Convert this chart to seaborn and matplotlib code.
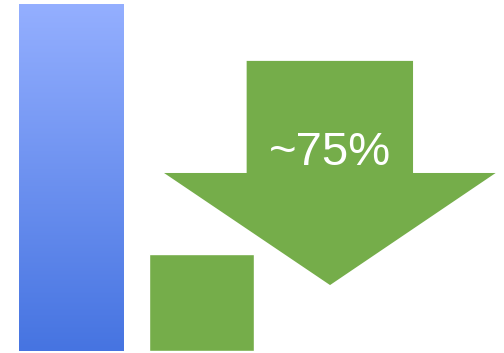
import numpy as np
import matplotlib
matplotlib.use('Agg')
import matplotlib.pyplot as plt
from matplotlib.colors import LinearSegmentedColormap
from matplotlib.patches import Polygon
import seaborn as sns

# values
categories = ['Before', 'After']
values = [100, 28]
drop_label = '~75%'

sns.set_style('white')
plt.rcParams['font.family'] = ['Liberation Sans', 'DejaVu Sans']

fig = plt.figure(figsize=(5.04, 3.53), dpi=100)
ax = fig.add_axes([0, 0, 1, 1])

sns.barplot(x=categories, y=values, ax=ax, width=0.8,
            palette=['#6A8FEF', '#75AD4A'], hue=categories, legend=False,
            saturation=1)

ax.set_xlim(-0.544, 3.318)
ax.set_ylim(-0.58, 101.15)
ax.axis('off')

# gradient fill on the first bar
bar = ax.patches[0]
x0, w, h = bar.get_x(), bar.get_width(), bar.get_height()
grad = LinearSegmentedColormap.from_list('g', ['#4674E1', '#94AFFF'])
img = ax.imshow(np.linspace(0, 1, 256).reshape(-1, 1), cmap=grad,
                extent=[x0, x0 + w, 0, h], origin='lower', aspect='auto',
                zorder=bar.get_zorder() + 0.1)
img.set_clip_path(bar)

# down arrow
arrow = Polygon([(1.346, 83.6), (2.621, 83.6), (2.621, 51.3), (3.254, 51.3),
                 (1.985, 19.0), (0.713, 51.3), (1.346, 51.3)],
                closed=True, facecolor='#75AD4A', edgecolor='none', zorder=3)
ax.add_patch(arrow)
ax.text(1.985, 53.6, drop_label, color='white', fontsize=34,
        ha='center', va='baseline', zorder=4)

fig.savefig('out.png', dpi=100)
